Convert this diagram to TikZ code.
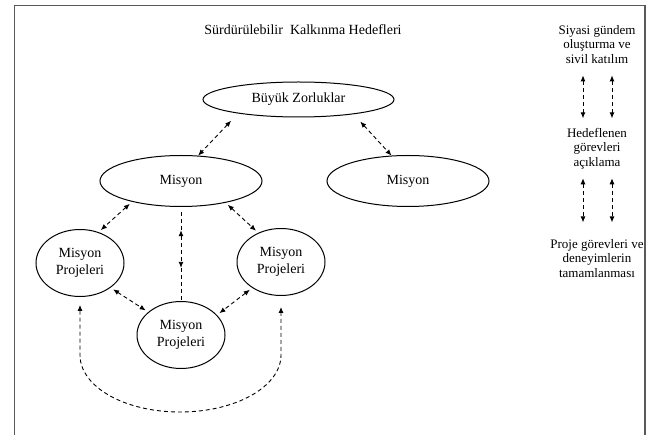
\documentclass[tikz,border=0pt]{standalone}
\usepackage{fontspec}
\setmainfont{Liberation Serif}
\usetikzlibrary{shapes.geometric,arrows.meta}

\begin{document}
\begin{tikzpicture}
[x=1pt, y=-1pt,
 goal/.style ={ellipse, draw, line width=1pt, inner sep=0pt, align=center, font=\fontsize{14}{16.8}\selectfont},
 big/.style ={goal, minimum width=191pt, minimum height=35pt},
 mission/.style ={goal, minimum width=162pt, minimum height=51pt},
 project/.style ={goal, minimum width=88pt, minimum height=67pt},
 level/.style ={align=center, inner sep=0pt, font=\fontsize{13}{14.3}\selectfont},
 line/.style ={draw, line width=0.9pt, dash pattern=on 4pt off 3pt, {Latex[length=6pt,width=5pt]}-{Latex[length=6pt,width=5pt]}},
 plain/.style ={draw, line width=0.9pt, dash pattern=on 4pt off 3pt}]
\useasboundingbox (0, 0) rectangle (650, 435);
\draw[black!65, line width=1.3pt] (14.5, 435) -- (14.5, 5.5) -- (645, 5.5) -- (645, 435);
\draw (303, 30) node[font=\fontsize{14}{16.8}\selectfont] (title) {Sürdürülebilir\ \ Kalkınma Hedefleri};
\draw (298.5, 99.5) node[big] (bz) {Büyük Zorluklar};
\draw (181, 181) node[mission] (m1) {Misyon};
\draw (408, 181) node[mission] (m2) {Misyon};
\draw (80, 263) node[project] (p1) {Misyon\\Projeleri};
\draw (281, 262) node[project] (p2) {Misyon\\Projeleri};
\draw (181, 335) node[project] (p3) {Misyon\\Projeleri};
\draw (597, 44.3) node[level] (s1) {Siyasi gündem\\oluşturma ve\\sivil katılım};
\draw (597, 148.8) node[level] (s2) {Hedeflenen\\görevleri\\açıklama};
\draw (597, 258.5) node[level] (s3) {Proje görevleri ve\\deneyimlerin\\tamamlanması};
\draw[line, shorten <=10pt] (bz.193) -- (m1.56);
\draw[line, shorten <=10pt] (bz.345) -- (m2.123);
\draw[line, shorten <=3pt, shorten >=3pt] (m1.203) -- (p1.59);
\draw[line, shorten <=3pt, shorten >=3pt] (m1.334) -- (p2.128);
\path (m1.south) -- (p3.north) coordinate[pos=.247] (up) coordinate[pos=.647] (dn);
\draw[plain, shorten <=5pt] (m1.south) -- (up);
\draw[line] (up) -- (dn);
\draw[plain] (dn) -- (p3.north);
\draw[line, shorten <=3pt, shorten >=3pt] (p1.321) -- (p3.145);
\draw[line, shorten <=3pt, shorten >=3pt] (p2.222) -- (p3.29);
\draw[line] ([yshift=-8pt]p1.south) -- ++(0, 50) .. controls +(0, 31.5) and +(-56, 0) .. ++(100, 57) .. controls +(56, 0) and +(0, 31.5) .. ++(101, -57) -- ([yshift=-11pt]p2.south);
\draw[line, shorten <=12pt, shorten >=10pt] ([xshift=-14pt]s1.south) -- ([xshift=-14pt]s2.north);
\draw[line, shorten <=12pt, shorten >=10pt] ([xshift=15pt]s1.south) -- ([xshift=15pt]s2.north);
\draw[line, shorten <=9pt, shorten >=17pt] ([xshift=-14pt]s2.south) -- ([xshift=-14pt]s3.north);
\draw[line, shorten <=9pt, shorten >=17pt] ([xshift=15pt]s2.south) -- ([xshift=15pt]s3.north);
\end{tikzpicture}
\end{document}
